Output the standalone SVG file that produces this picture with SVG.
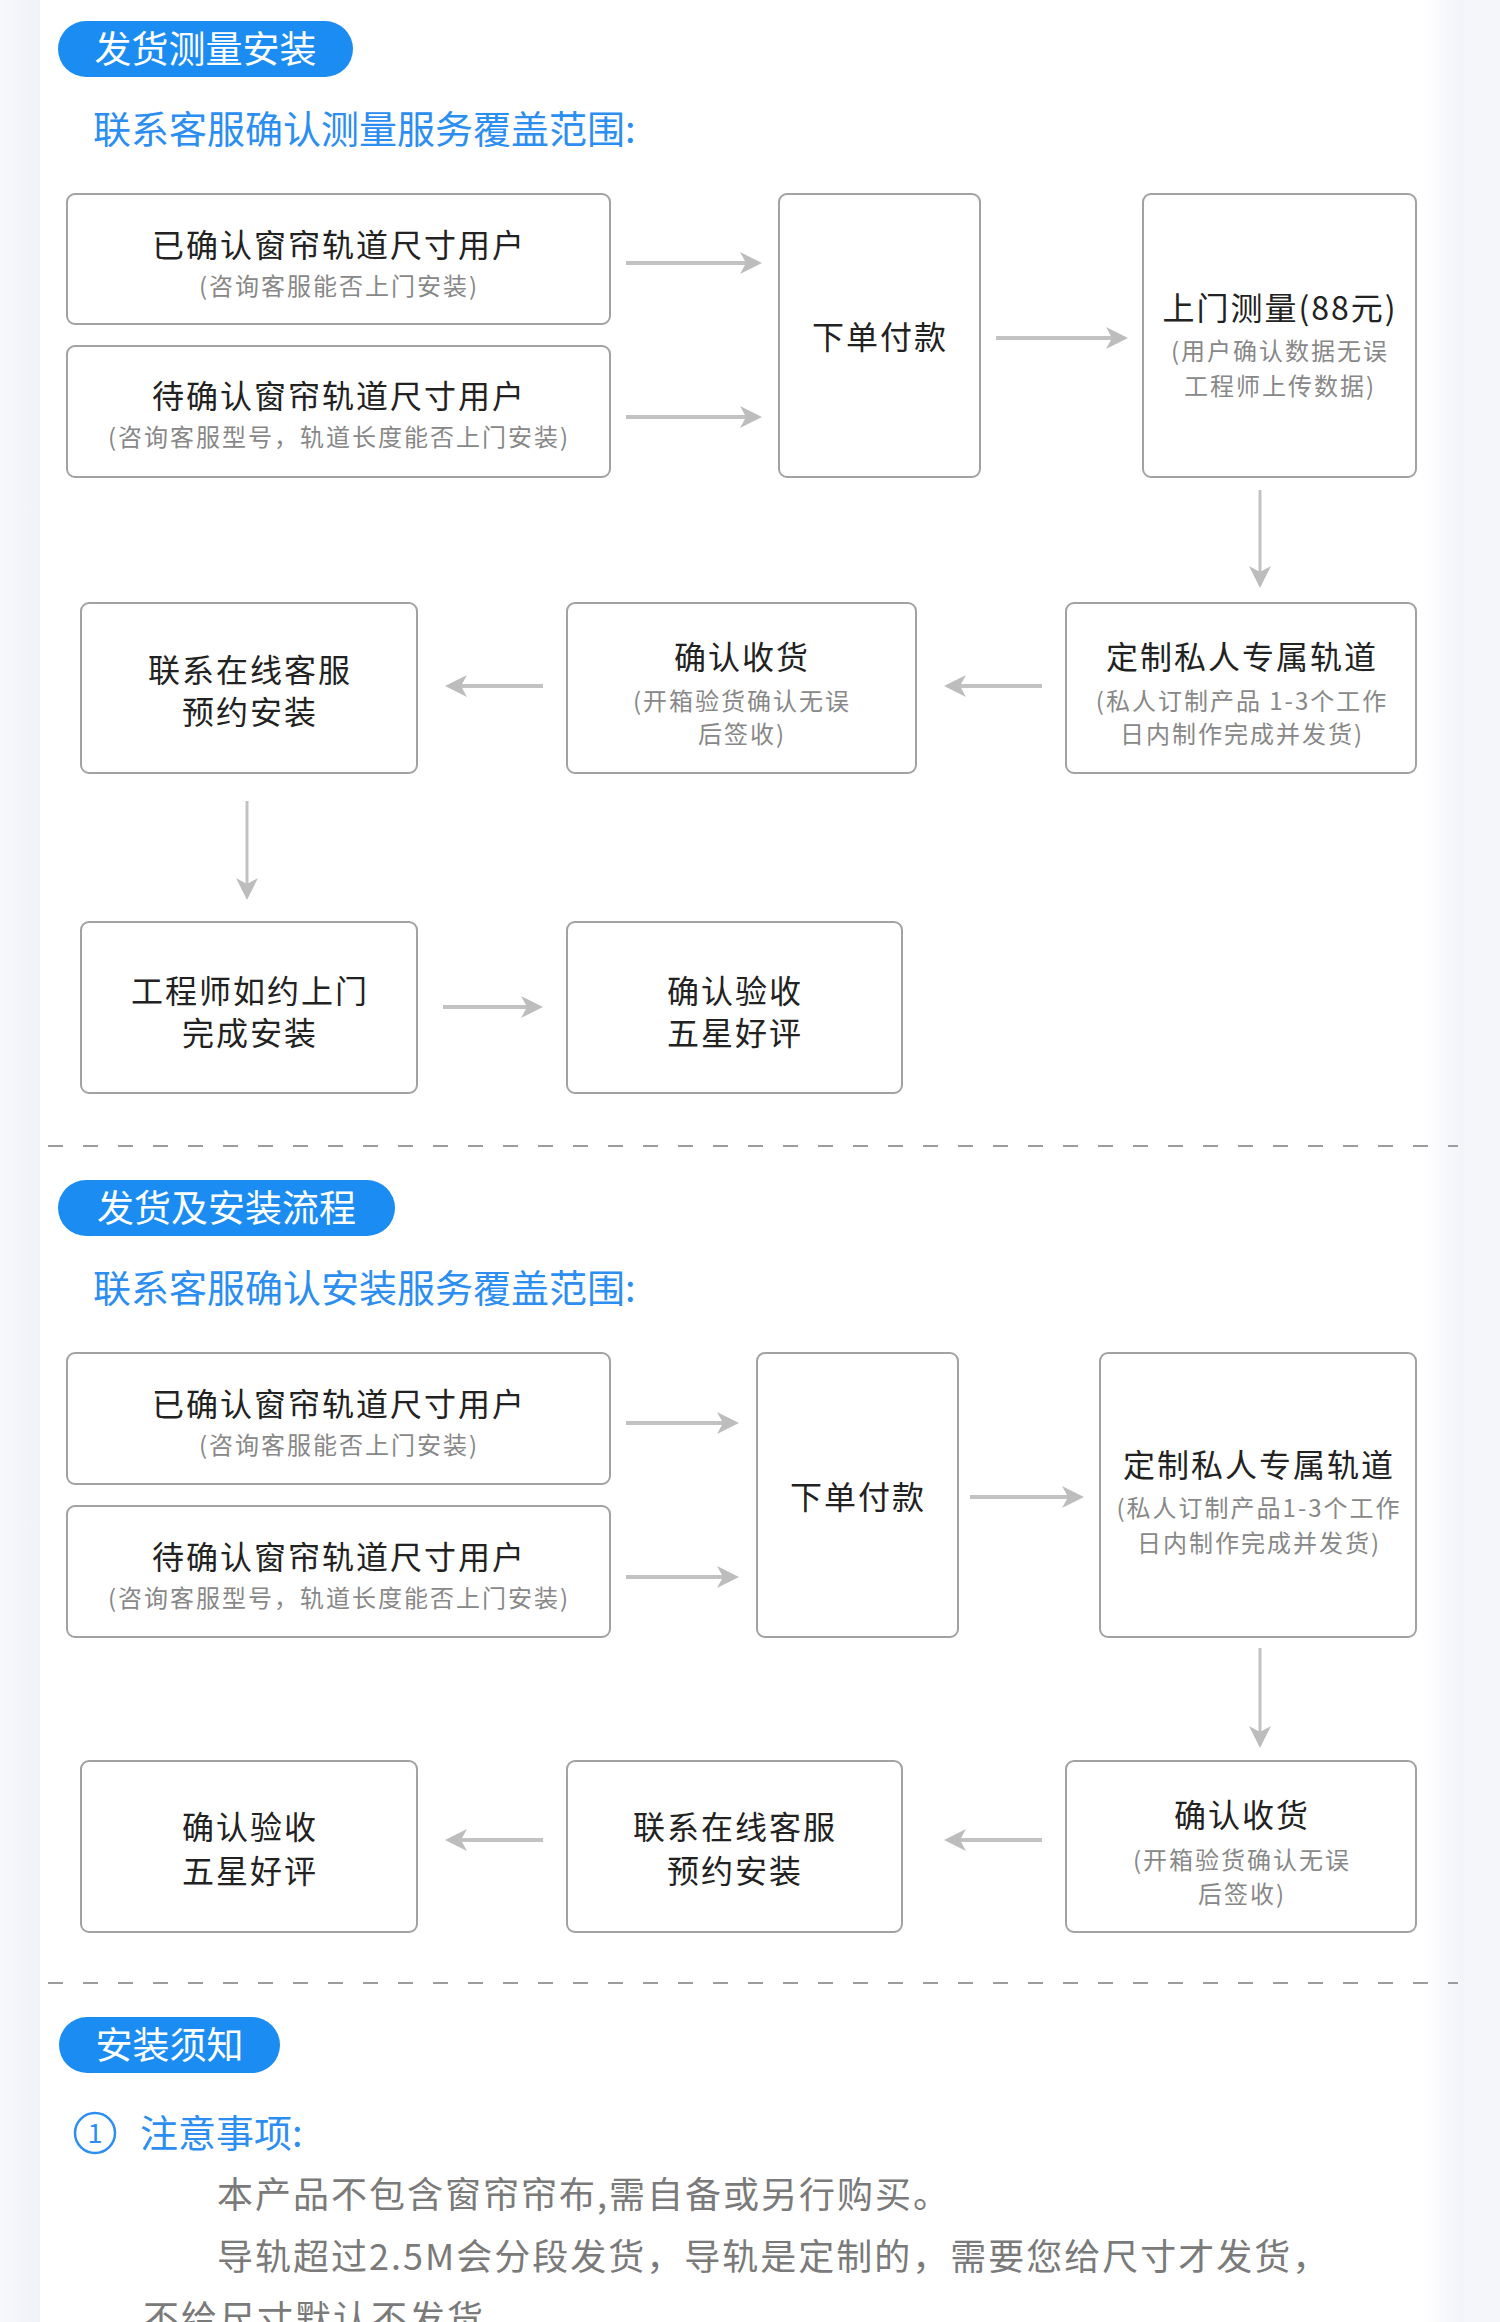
<svg xmlns="http://www.w3.org/2000/svg" width="1500" height="2322" viewBox="0 0 1500 2322">
<defs>
<style>
.bg{fill:#f5f6fa}
.panel{fill:#ffffff}
.badge{fill:#1b8cf2}
.badge-t{font-family:"Noto Sans CJK SC","Noto Sans",sans-serif;font-size:37px;fill:#ffffff;text-anchor:middle}
.sub-h{font-family:"Noto Sans CJK SC","Noto Sans",sans-serif;font-size:38px;fill:#2b8ef0}
.box{fill:#ffffff;stroke:#a2a2a2;stroke-width:2}
.t{font-family:"Noto Sans CJK SC","Noto Sans",sans-serif;font-size:32px;letter-spacing:2px;fill:#222222;text-anchor:middle}
.s{font-family:"Noto Sans CJK SC","Noto Sans",sans-serif;font-size:24px;letter-spacing:2px;fill:#888888;text-anchor:middle}
.h{stroke:#c2c2c2;stroke-width:4;fill:none;marker-end:url(#ah)}
.v{stroke:#c2c2c2;stroke-width:3;fill:none;marker-end:url(#ah)}
.dash{stroke:#9c9c9c;stroke-width:2;stroke-dasharray:15 20;fill:none}
.note{font-family:"Noto Sans CJK SC","Noto Sans",sans-serif;font-size:36px;letter-spacing:2px;fill:#7a7a7a}
</style>
<linearGradient id="rg" x1="0" y1="0" x2="1" y2="0">
<stop offset="0" stop-color="#ffffff"/>
<stop offset="1" stop-color="#f2f3f8"/>
</linearGradient>
<linearGradient id="lg" x1="0" y1="0" x2="1" y2="0">
<stop offset="0" stop-color="#f7f8fb"/>
<stop offset="1" stop-color="#f1f2f7"/>
</linearGradient>
<marker id="ah" markerUnits="userSpaceOnUse" viewBox="0 0 24 24" markerWidth="24" markerHeight="24" refX="13" refY="12" orient="auto">
<path d="M1,1 L23,12 L1,23 L7,12 Z" fill="#bdbdbd"/>
</marker>
</defs>

<rect class="bg" x="0" y="0" width="1500" height="2322"/>
<rect x="0" y="0" width="40" height="2322" fill="url(#lg)"/>
<rect class="panel" x="40" y="0" width="1382" height="2322"/>
<rect x="1422" y="0" width="42" height="2322" fill="url(#rg)"/>

<!-- Section 1 -->
<g id="badge1">
<rect class="badge" x="58" y="21" width="295" height="56" rx="28"/>
<text class="badge-t" x="205.5" y="63">发货测量安装</text>
</g>
<text id="subtitle1" class="sub-h" x="93" y="143">联系客服确认测量服务覆盖范围:</text>

<g id="n1a">
<rect class="box" x="67" y="194" width="543" height="130" rx="8"/>
<text class="t" x="339" y="257">已确认窗帘轨道尺寸用户</text>
<text class="s" x="339" y="295">(咨询客服能否上门安装)</text>
</g>
<g id="n1b">
<rect class="box" x="67" y="346" width="543" height="131" rx="8"/>
<text class="t" x="339" y="408">待确认窗帘轨道尺寸用户</text>
<text class="s" x="339" y="446">(咨询客服型号，轨道长度能否上门安装)</text>
</g>
<g id="n1c">
<rect class="box" x="779" y="194" width="201" height="283" rx="8"/>
<text class="t" x="880" y="349">下单付款</text>
</g>
<g id="n1d">
<rect class="box" x="1143" y="194" width="273" height="283" rx="8"/>
<text class="t" x="1280" y="320">上门测量(88元)</text>
<text class="s" x="1280" y="360">(用户确认数据无误</text>
<text class="s" x="1280" y="395">工程师上传数据)</text>
</g>
<g id="n1e">
<rect class="box" x="1066" y="603" width="350" height="170" rx="8"/>
<text class="t" x="1242" y="669">定制私人专属轨道</text>
<text class="s" x="1242" y="710">(私人订制产品 1-3个工作</text>
<text class="s" x="1242" y="743">日内制作完成并发货)</text>
</g>
<g id="n1f">
<rect class="box" x="567" y="603" width="349" height="170" rx="8"/>
<text class="t" x="742" y="669">确认收货</text>
<text class="s" x="742" y="710">(开箱验货确认无误</text>
<text class="s" x="742" y="743">后签收)</text>
</g>
<g id="n1g">
<rect class="box" x="81" y="603" width="336" height="170" rx="8"/>
<text class="t" x="250" y="682">联系在线客服</text>
<text class="t" x="250" y="724">预约安装</text>
</g>
<g id="n1h">
<rect class="box" x="81" y="922" width="336" height="171" rx="8"/>
<text class="t" x="250" y="1003">工程师如约上门</text>
<text class="t" x="250" y="1045">完成安装</text>
</g>
<g id="n1i">
<rect class="box" x="567" y="922" width="335" height="171" rx="8"/>
<text class="t" x="735" y="1003">确认验收</text>
<text class="t" x="735" y="1045">五星好评</text>
</g>

<line id="divider1" class="dash" x1="48" y1="1146" x2="1458" y2="1146"/>

<!-- Section 2 -->
<g id="badge2">
<rect class="badge" x="58" y="1180" width="337" height="56" rx="28"/>
<text class="badge-t" x="226.5" y="1222">发货及安装流程</text>
</g>
<text id="subtitle2" class="sub-h" x="93" y="1302">联系客服确认安装服务覆盖范围:</text>

<g id="n2a">
<rect class="box" x="67" y="1353" width="543" height="131" rx="8"/>
<text class="t" x="339" y="1416">已确认窗帘轨道尺寸用户</text>
<text class="s" x="339" y="1454">(咨询客服能否上门安装)</text>
</g>
<g id="n2b">
<rect class="box" x="67" y="1506" width="543" height="131" rx="8"/>
<text class="t" x="339" y="1569">待确认窗帘轨道尺寸用户</text>
<text class="s" x="339" y="1607">(咨询客服型号，轨道长度能否上门安装)</text>
</g>
<g id="n2c">
<rect class="box" x="757" y="1353" width="201" height="284" rx="8"/>
<text class="t" x="858" y="1509">下单付款</text>
</g>
<g id="n2d">
<rect class="box" x="1100" y="1353" width="316" height="284" rx="8"/>
<text class="t" x="1259" y="1477">定制私人专属轨道</text>
<text class="s" x="1259" y="1517">(私人订制产品1-3个工作</text>
<text class="s" x="1259" y="1552">日内制作完成并发货)</text>
</g>
<g id="n2e">
<rect class="box" x="1066" y="1761" width="350" height="171" rx="8"/>
<text class="t" x="1242" y="1827">确认收货</text>
<text class="s" x="1242" y="1869">(开箱验货确认无误</text>
<text class="s" x="1242" y="1903">后签收)</text>
</g>
<g id="n2f">
<rect class="box" x="567" y="1761" width="335" height="171" rx="8"/>
<text class="t" x="735" y="1839">联系在线客服</text>
<text class="t" x="735" y="1883">预约安装</text>
</g>
<g id="n2g">
<rect class="box" x="81" y="1761" width="336" height="171" rx="8"/>
<text class="t" x="250" y="1839">确认验收</text>
<text class="t" x="250" y="1883">五星好评</text>
</g>

<line id="divider2" class="dash" x1="48" y1="1983" x2="1458" y2="1983"/>

<!-- Connectors -->
<g id="connectors">
<line class="h" x1="626" y1="263" x2="752" y2="263"/>
<line class="h" x1="626" y1="417" x2="752" y2="417"/>
<line class="h" x1="996" y1="338" x2="1118" y2="338"/>
<line class="v" x1="1260" y1="490" x2="1260" y2="578"/>
<line class="h" x1="1042" y1="686" x2="954" y2="686"/>
<line class="h" x1="543" y1="686" x2="455" y2="686"/>
<line class="v" x1="247" y1="801" x2="247" y2="890"/>
<line class="h" x1="443" y1="1007" x2="533" y2="1007"/>
<line class="h" x1="626" y1="1423" x2="729" y2="1423"/>
<line class="h" x1="626" y1="1577" x2="729" y2="1577"/>
<line class="h" x1="970" y1="1497" x2="1074" y2="1497"/>
<line class="v" x1="1260" y1="1648" x2="1260" y2="1738"/>
<line class="h" x1="1042" y1="1840" x2="954" y2="1840"/>
<line class="h" x1="543" y1="1840" x2="455" y2="1840"/>
</g>

<!-- Section 3 -->
<g id="badge3">
<rect class="badge" x="59" y="2017" width="221" height="56" rx="28"/>
<text class="badge-t" x="169.5" y="2059">安装须知</text>
</g>
<g id="notes">
<circle cx="95" cy="2133" r="20" fill="none" stroke="#2b8ef0" stroke-width="2.5"/>
<text x="95" y="2143" font-family="'Noto Sans CJK SC','Noto Sans',sans-serif" font-size="27" fill="#2b8ef0" text-anchor="middle">1</text>
<text class="sub-h" x="140" y="2147">注意事项:</text>
<text class="note" x="217" y="2208">本产品不包含窗帘帘布,需自备或另行购买。</text>
<text class="note" x="217" y="2270">导轨超过2.5M会分段发货，导轨是定制的，需要您给尺寸才发货，</text>
<text class="note" x="143" y="2332">不给尺寸默认不发货</text>
</g>
</svg>
